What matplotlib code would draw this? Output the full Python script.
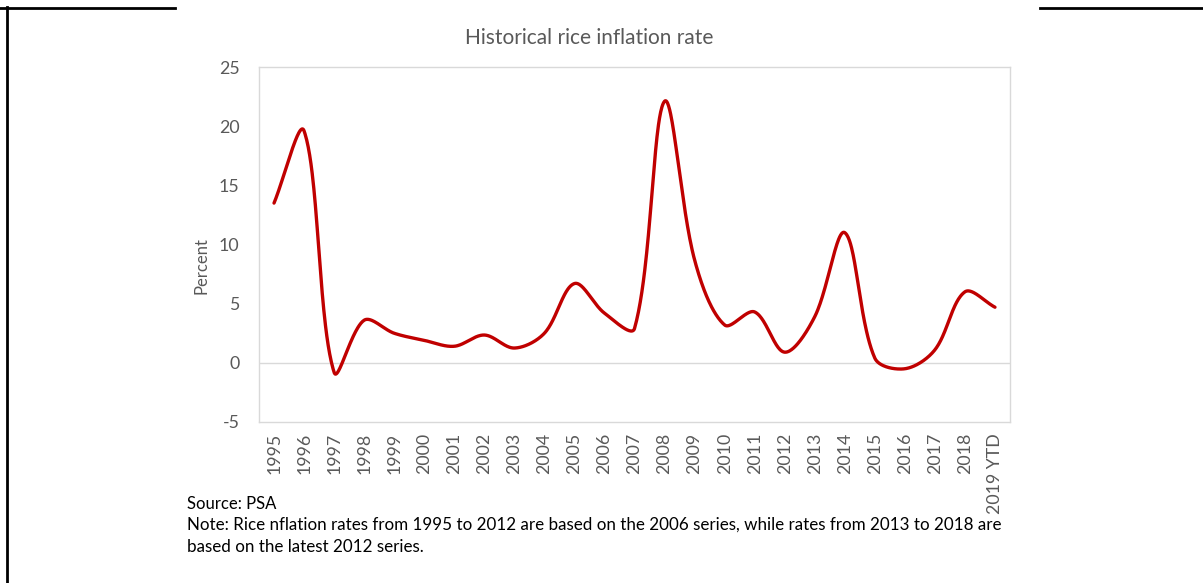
import numpy as np
import matplotlib
matplotlib.use("Agg")
import matplotlib.pyplot as plt
from matplotlib.lines import Line2D

plt.rcParams['font.family'] = ['Lato', 'DejaVu Sans']
plt.rcParams['axes.unicode_minus'] = False

# data
years = ['1995', '1996', '1997', '1998', '1999', '2000', '2001', '2002', '2003',
         '2004', '2005', '2006', '2007', '2008', '2009', '2010', '2011', '2012',
         '2013', '2014', '2015', '2016', '2017', '2018', '2019 YTD']
rice_inflation = [13.5, 19.6, -0.8, 3.6, 2.5, 1.9, 1.4, 2.35, 1.25,
                  2.5, 6.7, 4.2, 2.9, 22.1, 8.7, 3.2, 4.3, 0.9,
                  3.9, 11.0, 0.4, -0.5, 1.1, 6.0, 4.7]

W, H = 1203, 583
fig = plt.figure(figsize=(W / 100, H / 100), dpi=100)

def fx(px):
    return px / W

def fy(py):
    return 1 - py / H

ax = fig.add_axes([fx(259), fy(422), fx(1010) - fx(259), fy(67) - fy(422)])

# pixels per data unit, used so the smoothing works in screen space like Excel
SX = (1010 - 259) / len(years)
SY = (422 - 67) / 30.0


def smooth(xs, ys, n=50):
    # bezier smoothing, handles scaled by neighbouring segment lengths
    p = np.column_stack([np.asarray(xs) * SX, np.asarray(ys) * SY]).astype(float)
    m = len(p)
    c_in = p.copy()
    c_out = p.copy()
    for i in range(m):
        a = p[max(i - 1, 0)]
        b = p[min(i + 1, m - 1)]
        d = b - a
        l1 = np.linalg.norm(p[i] - a)
        l2 = np.linalg.norm(b - p[i])
        if l1 + l2 == 0:
            continue
        c_out[i] = p[i] + d * l2 / (l1 + l2) / 3
        c_in[i] = p[i] - d * l1 / (l1 + l2) / 3
    out = []
    t = np.linspace(0, 1, n)[:, None]
    for i in range(m - 1):
        p1, c1, c2, p2 = p[i], c_out[i], c_in[i + 1], p[i + 1]
        seg = (1 - t) ** 3 * p1 + 3 * (1 - t) ** 2 * t * c1 + 3 * (1 - t) * t ** 2 * c2 + t ** 3 * p2
        out.append(seg if i == 0 else seg[1:])
    out = np.vstack(out)
    return out[:, 0] / SX, out[:, 1] / SY


x = np.arange(len(years))
sx, sy = smooth(x, rice_inflation)
ax.plot(sx, sy, color='#C00000', lw=2.4, solid_capstyle='round', zorder=3)

ax.axhline(0, color='#D9D9D9', lw=1, zorder=1)
ax.set_xlim(-0.5, len(years) - 0.5)
ax.set_ylim(-5, 25)
ax.set_yticks([-5, 0, 5, 10, 15, 20, 25])
ax.set_xticks(x)
ax.set_xticklabels(years, rotation=90, va='top')
ax.tick_params(length=0, labelsize=12.8, colors='#595959')
ax.tick_params(axis='y', pad=14)
ax.tick_params(axis='x', pad=8)
for s in ax.spines.values():
    s.set_color('#D9D9D9')
    s.set_linewidth(1)

fig.text(fx(201), fy(266), 'Percent', rotation=90, ha='center', va='center',
         fontsize=12, color='#595959')
fig.text(fx(589), fy(38), 'Historical rice inflation rate', ha='center', va='center',
         fontsize=15, color='#595959')

fig.text(fx(187), fy(504), 'Source: PSA', ha='left', va='center', fontsize=12, color='black')
fig.text(fx(187), fy(525), 'Note: Rice nflation rates from 1995 to 2012 are based on the 2006 series, '
         'while rates from 2013 to 2018 are', ha='left', va='center', fontsize=12.25, color='black')
fig.text(fx(187), fy(547), 'based on the latest 2012 series.', ha='left', va='center',
         fontsize=12.25, color='black')

# page border lines
fig.add_artist(Line2D([fx(7), fx(7)], [0, fy(7)], color='black', lw=2))
fig.add_artist(Line2D([0, fx(175)], [fy(8), fy(8)], color='black', lw=2))
fig.add_artist(Line2D([fx(1040), 1], [fy(8), fy(8)], color='black', lw=2))

fig.savefig('out.png', dpi=100)
